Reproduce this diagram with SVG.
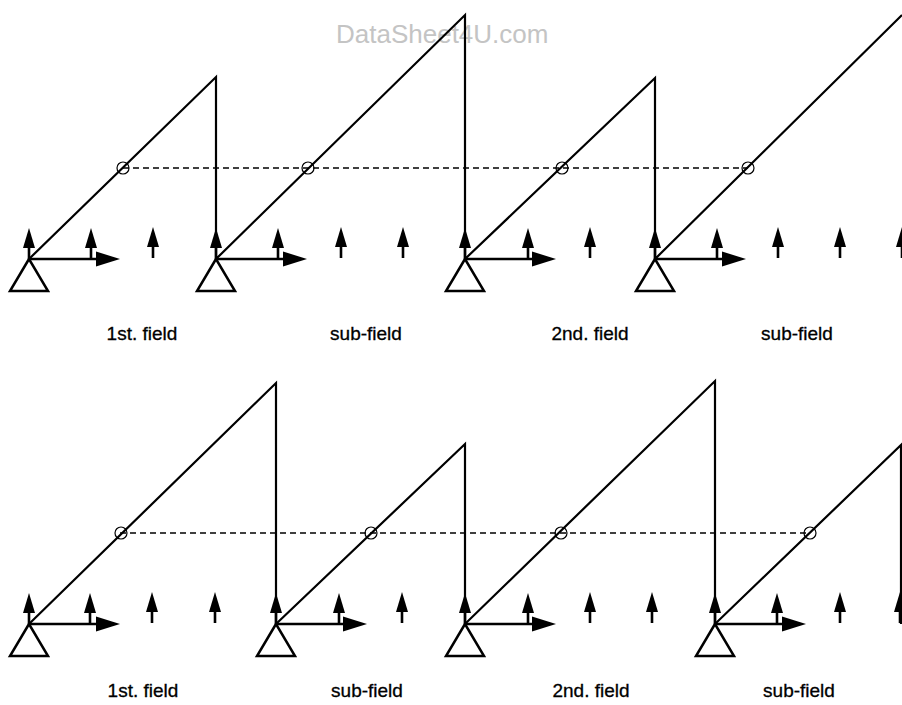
<svg xmlns="http://www.w3.org/2000/svg" xmlns:xlink="http://www.w3.org/1999/xlink" width="902" height="705" viewBox="0 0 902 705">
<style>
.saw{fill:none;stroke:#000;stroke-width:2.2;stroke-linejoin:miter}
.dash{fill:none;stroke:#000;stroke-width:1.3;stroke-dasharray:6 4}
.circ{fill:none;stroke:#000;stroke-width:1.2}
.lbl{font-family:"Liberation Sans",Arial,sans-serif;font-size:19px;fill:#000;text-anchor:middle;stroke:#000;stroke-width:0.3}
.wm{font-family:"Liberation Sans",Arial,sans-serif;font-size:26px;fill:#c4c4c4}
</style>
<defs>
<g id="up">
<line x1="0" y1="-13" x2="0" y2="0" stroke="#000" stroke-width="2.6"/>
<polygon points="0,-31 -6,-11 6,-11" fill="#000"/>
</g>
<g id="right">
<line x1="0" y1="0" x2="70" y2="0" stroke="#000" stroke-width="2.5"/>
<polygon points="67,-7.5 91,0 67,7.5" fill="#000"/>
</g>
<polygon id="tri" points="0,0 -19,32 19,32" fill="none" stroke="#000" stroke-width="2.5" stroke-linejoin="miter"/>
</defs>

<text class="wm" x="336" y="43">DataSheet4U.com</text>

<g id="panel-top">
<g id="connectors-top">
<polyline class="saw" points="29,259 216,77 216,259 465,15 465,259 655,78 655,259 902,15"/>
<line class="dash" x1="123" y1="168" x2="748" y2="168"/>
</g>
<g id="circles-top">
<circle class="circ" cx="123" cy="168" r="6"/>
<circle class="circ" cx="308" cy="168" r="6"/>
<circle class="circ" cx="562" cy="168" r="6"/>
<circle class="circ" cx="748" cy="168" r="6"/>
</g>
<g id="supports-top">
<use xlink:href="#tri" x="29" y="259"/>
<use xlink:href="#tri" x="216" y="259"/>
<use xlink:href="#tri" x="465" y="259"/>
<use xlink:href="#tri" x="655" y="259"/>
<use xlink:href="#right" x="29" y="259"/>
<use xlink:href="#right" x="216" y="259"/>
<use xlink:href="#right" x="465" y="259"/>
<use xlink:href="#right" x="655" y="259"/>
</g>
<g id="arrows-top">
<use xlink:href="#up" x="29" y="259"/>
<use xlink:href="#up" x="91" y="259"/>
<use xlink:href="#up" x="153" y="258"/>
<use xlink:href="#up" x="216" y="259"/>
<use xlink:href="#up" x="278" y="259"/>
<use xlink:href="#up" x="341" y="258"/>
<use xlink:href="#up" x="403" y="258"/>
<use xlink:href="#up" x="465" y="259"/>
<use xlink:href="#up" x="528" y="259"/>
<use xlink:href="#up" x="590" y="258"/>
<use xlink:href="#up" x="655" y="259"/>
<use xlink:href="#up" x="717" y="259"/>
<use xlink:href="#up" x="778" y="258"/>
<use xlink:href="#up" x="840" y="258"/>
<use xlink:href="#up" x="902" y="258"/>
</g>
<g id="labels-top">
<text class="lbl" x="142" y="340">1st. field</text>
<text class="lbl" x="366" y="340">sub-field</text>
<text class="lbl" x="590" y="340">2nd. field</text>
<text class="lbl" x="797" y="340">sub-field</text>
</g>
</g>

<g id="panel-bottom">
<g id="connectors-bottom">
<polyline class="saw" points="29,624 276,383 276,624 465,444 465,624 715,381 715,624 901,445 901,624"/>
<line class="dash" x1="120" y1="533" x2="810" y2="533"/>
</g>
<g id="circles-bottom">
<circle class="circ" cx="121" cy="533" r="6"/>
<circle class="circ" cx="371" cy="533" r="6"/>
<circle class="circ" cx="561" cy="533" r="6"/>
<circle class="circ" cx="810" cy="533" r="6"/>
</g>
<g id="supports-bottom">
<use xlink:href="#tri" x="29" y="624"/>
<use xlink:href="#tri" x="276" y="624"/>
<use xlink:href="#tri" x="465" y="624"/>
<use xlink:href="#tri" x="715" y="624"/>
<use xlink:href="#right" x="29" y="624"/>
<use xlink:href="#right" x="276" y="624"/>
<use xlink:href="#right" x="465" y="624"/>
<use xlink:href="#right" x="715" y="624"/>
</g>
<g id="arrows-bottom">
<use xlink:href="#up" x="29" y="624"/>
<use xlink:href="#up" x="90" y="624"/>
<use xlink:href="#up" x="152" y="623"/>
<use xlink:href="#up" x="215" y="623"/>
<use xlink:href="#up" x="276" y="624"/>
<use xlink:href="#up" x="339" y="624"/>
<use xlink:href="#up" x="402" y="623"/>
<use xlink:href="#up" x="465" y="624"/>
<use xlink:href="#up" x="528" y="624"/>
<use xlink:href="#up" x="590" y="623"/>
<use xlink:href="#up" x="652" y="623"/>
<use xlink:href="#up" x="715" y="624"/>
<use xlink:href="#up" x="777" y="624"/>
<use xlink:href="#up" x="840" y="623"/>
<use xlink:href="#up" x="900" y="623"/>
</g>
<g id="labels-bottom">
<text class="lbl" x="143" y="697">1st. field</text>
<text class="lbl" x="367" y="697">sub-field</text>
<text class="lbl" x="591" y="697">2nd. field</text>
<text class="lbl" x="799" y="697">sub-field</text>
</g>
</g>
</svg>
